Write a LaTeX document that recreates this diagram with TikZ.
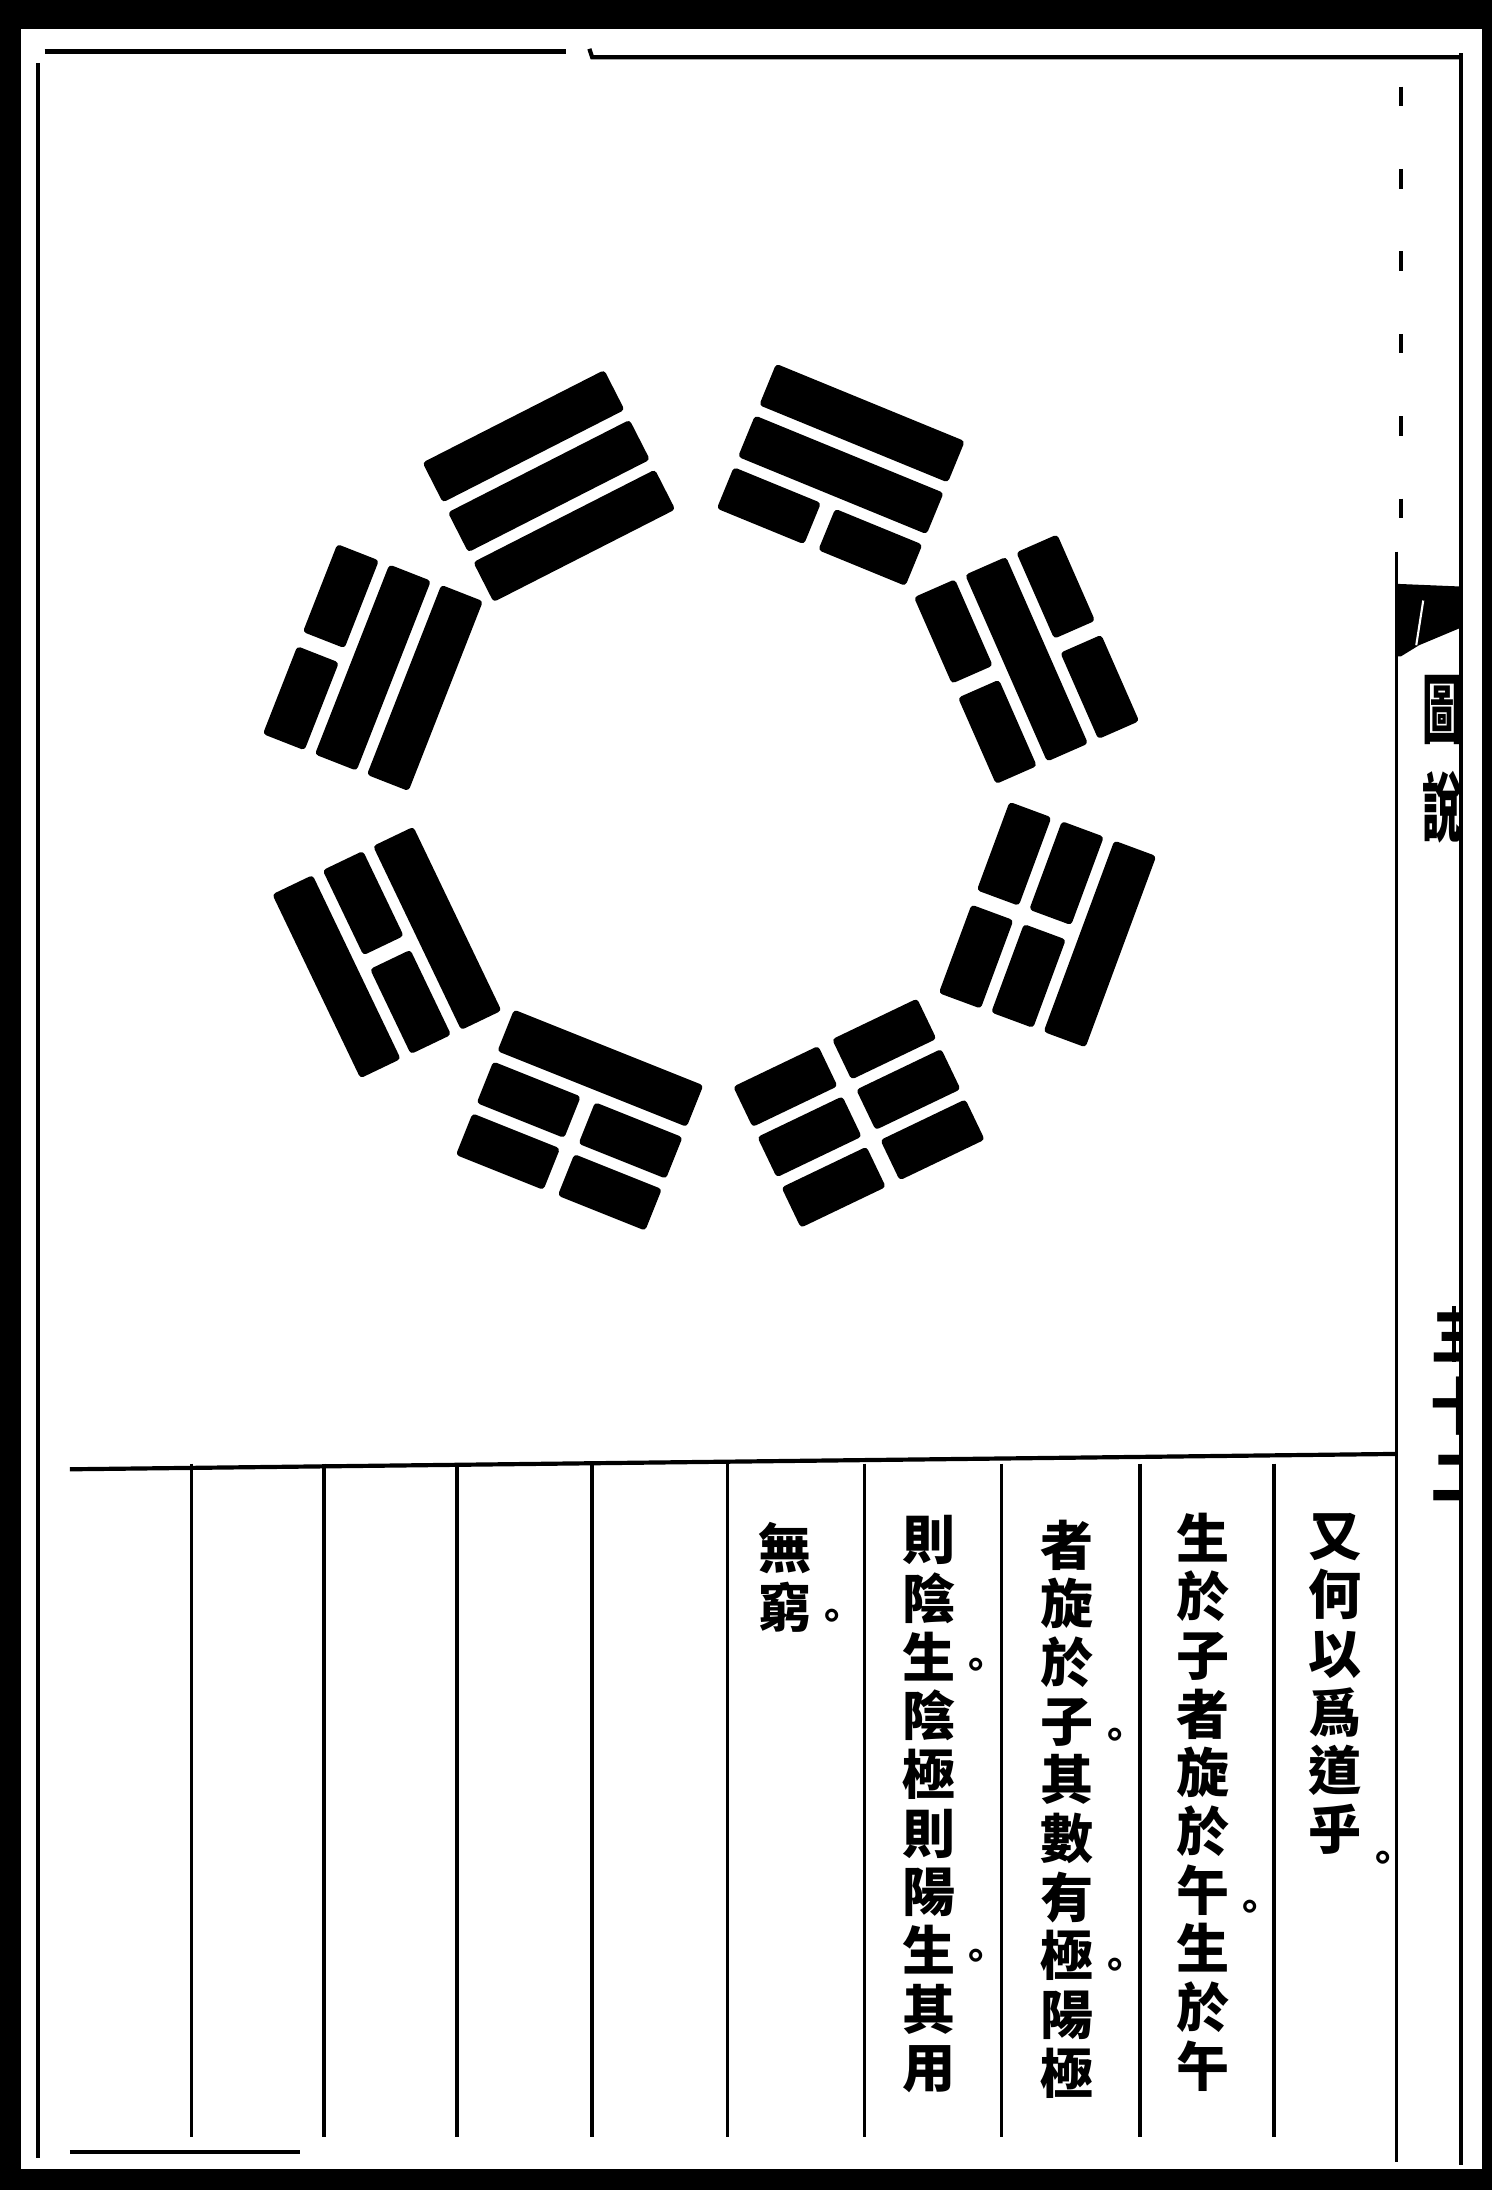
\documentclass[tikz,border=0pt]{standalone}
\usepackage{fontspec}
\usepackage{graphicx}
\newfontfamily\cjk{Noto Sans CJK TC}
\tikzset{
  ink/.style={fill=black},
  frameline/.style={line width=3pt},
  colline/.style={line width=2.6pt},
  coltext/.style={font=\cjk\bfseries\fontsize{38}{42}\selectfont, align=center, anchor=north, inner sep=0pt},
  punct/.style={font=\cjk\bfseries\fontsize{28}{28}\selectfont, inner sep=0pt},
  bar/.style={fill=black, rounded corners=2.5pt},
  margintext/.style={font=\cjk\bfseries\fontsize{30}{30}\selectfont, inner sep=0pt},
}
\newcommand\yaoline[2]{%
  \ifnum#1=1
    \fill[bar] (-73,{#2-16}) rectangle (73,{#2+16});
  \else
    \fill[bar] (-73,{#2-16}) rectangle (-5.5,{#2+16});
    \fill[bar] (5.5,{#2-16}) rectangle (73,{#2+16});
  \fi}
% #1,#2 centre (y up), #3 direction from the middle, #4 inner (bottom) line, #5 middle, #6 outer (top)
\newcommand\trigram[6]{%
  \begin{scope}[shift={(#1,#2)},rotate={#3-90}]
    \yaoline{#4}{-40}\yaoline{#5}{0}\yaoline{#6}{40}
  \end{scope}}
\begin{document}
\begin{tikzpicture}[x=1pt,y=1pt]
\useasboundingbox (0,0) rectangle (1068,1568);
\fill[white] (0,0) rectangle (1068,1568);
% the eight trigrams (Fu Xi order)
\trigram{393}{1220}{117}{1}{1}{1}
\trigram{267}{1090}{158.6}{1}{1}{0}
\trigram{277}{886}{205.6}{1}{0}{1}
\trigram{415}{766}{248.2}{1}{0}{0}
\trigram{615}{771}{-64.4}{0}{0}{0}
\trigram{750}{906}{-20.3}{0}{0}{1}
\trigram{735}{1096}{23.7}{0}{1}{0}
\trigram{602}{1228}{67.7}{0}{1}{1}
\begin{scope}[yshift=1568pt, y=-1pt]
  % outer black frame
  \fill[ink] (0,0) rectangle (1068,21);
  \fill[ink] (0,0) rectangle (15,1568);
  \fill[ink] (1061,0) rectangle (1068,1568);
  \fill[ink] (0,1553) rectangle (1068,1568);
  % inner lines
  \draw[line width=4pt] (32,37) -- (405,37);
  \draw[frameline] (422,35) -- (424,41) -- (1046,41);
  \draw[frameline] (1046,38) -- (1046,1550);
  \draw[frameline] (27,45) -- (27,1545);
  \draw[line width=2.5pt, dash pattern=on 14pt off 45pt] (1003,62) -- (1003,395);
  \draw[line width=2.5pt] (1000,395) -- (1000,1548);
  \draw[frameline] (50,1052) -- (1000,1041);
  \foreach \cx in {137,232,327,424,521,619,717,816,912}
    \draw[colline] (\cx,1048) -- (\cx,1530);
  \draw[line width=3pt] (50,1541) -- (215,1541);
  % fishtail mark
  \fill[ink] (999,418) -- (1047,420) -- (1047,449) -- (1016,462) -- (1003,470) -- (999,470) -- cycle;
  \draw[white, line width=1.5pt] (1019,430) -- (1014,462);
  % margin title
  \node[margintext] (tu) at (1033,508) {\scalebox{0.95}[1.8]{圖}};
  \node[margintext] (shuo) at (1033,578) {\scalebox{0.95}[1.8]{說}};
  % page number (half visible at the fold)
  \draw[line width=2.5pt] (1041,935) -- (1041,975);
  \begin{scope}
    \clip (1001,930) rectangle (1045,1095);
    \node[font=\cjk\bfseries\fontsize{44}{50}\selectfont, align=center, anchor=north, inner sep=0pt] (yema) at (1046,940) {三\\十\\二};
  \end{scope}
  % text columns
  \node[coltext] (c1) at (956,1083) {又\\何\\以\\爲\\道\\乎};
  \node[coltext] (c2) at (861,1083) {生\\於\\子\\者\\旋\\於\\午\\生\\於\\午};
  \node[coltext] (c3) at (764,1088) {者\\旋\\於\\子\\其\\數\\有\\極\\陽\\極};
  \node[coltext] (c4) at (665,1085) {則\\陰\\生\\陰\\極\\則\\陽\\生\\其\\用};
  \node[coltext] (c5) at (562,1090) {無\\窮};
  % punctuation
  \node[punct] (p1) at (990,1333) {。};
  \node[punct] (p2) at (895,1368) {。};
  \node[punct] (p3a) at (798,1245) {。};
  \node[punct] (p3b) at (798,1410) {。};
  \node[punct] (p4a) at (699,1195) {。};
  \node[punct] (p4b) at (699,1403) {。};
  \node[punct] (p5) at (596,1160) {。};
\end{scope}
\end{tikzpicture}
\end{document}
